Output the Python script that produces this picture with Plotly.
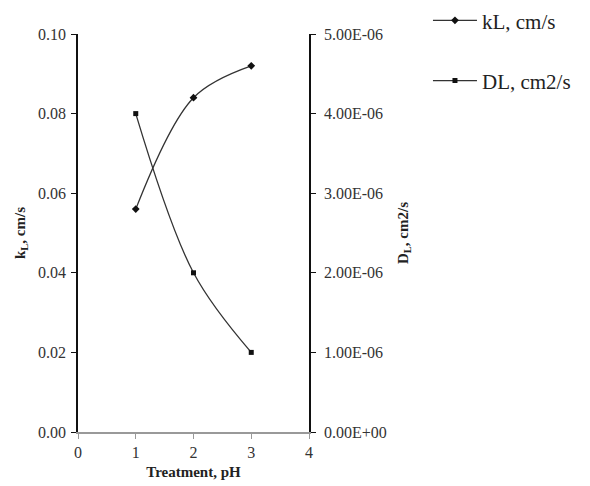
import plotly.graph_objects as go

treatment = [1, 2, 3]
kL = [0.056, 0.084, 0.092]
DL = [4.0e-6, 2.0e-6, 1.0e-6]
left_ticks = [0.0, 0.02, 0.04, 0.06, 0.08, 0.10]
left_labels = ["0.00", "0.02", "0.04", "0.06", "0.08", "0.10"]
right_ticks = [0, 1e-6, 2e-6, 3e-6, 4e-6, 5e-6]
right_labels = ["0.00E+00", "1.00E-06", "2.00E-06", "3.00E-06", "4.00E-06", "5.00E-06"]
x_ticks = [0, 1, 2, 3, 4]

FONT = "Liberation Serif, DejaVu Serif, serif"
LINE = "#333"

fig = go.Figure()
fig.add_trace(go.Scatter(
    x=treatment, y=kL, name="kL, cm/s", mode="lines+markers",
    line=dict(color=LINE, width=1.3, shape="spline", smoothing=1.0),
    marker=dict(symbol="diamond", size=6, color="#111"),
    legendgroup="a", yaxis="y"))
fig.add_trace(go.Scatter(
    x=treatment, y=DL, name="DL, cm2/s", mode="lines+markers",
    line=dict(color=LINE, width=1.3, shape="spline", smoothing=1.0),
    marker=dict(symbol="square", size=5, color="#111"),
    legendgroup="b", yaxis="y2"))

fig.update_layout(
    width=590, height=486,
    margin=dict(l=78, r=281, t=34, b=54, autoexpand=False),
    paper_bgcolor="white", plot_bgcolor="white",
    font=dict(family=FONT, color="#333", size=16),
    showlegend=True,
    legend=dict(x=1.515, y=1.085, xanchor="left", yanchor="top",
                font=dict(family=FONT, size=21, color="#222"),
                itemwidth=44, tracegroupgap=30, bgcolor="rgba(0,0,0,0)"),
    xaxis=dict(range=[0, 4], tickvals=x_ticks, showgrid=False, zeroline=False,
               showline=True, linecolor="#999", linewidth=1.5,
               ticks="outside", ticklen=5, tickcolor="#999",
               tickfont=dict(family=FONT, size=16, color="#333"),
               title=dict(text="<b>Treatment, pH</b>", font=dict(family=FONT, size=15, color="#222"), standoff=7)),
    yaxis=dict(range=[0, 0.10], tickvals=left_ticks, ticktext=left_labels,
               showgrid=False, zeroline=False, showline=True, linecolor="#111", linewidth=1.5,
               ticks="outside", ticklen=5, tickcolor="#111", ticklabelstandoff=2,
               tickfont=dict(family=FONT, size=16, color="#333"),
               title=dict(text="<b>k<sub>L</sub>, cm/s</b>", font=dict(family=FONT, size=15, color="#222"), standoff=9)),
    yaxis2=dict(range=[0, 5e-6], tickvals=right_ticks, ticktext=right_labels,
                overlaying="y", side="right", showgrid=False, zeroline=False,
                showline=True, linecolor="#111", linewidth=1.5,
                ticks="outside", ticklen=5, tickcolor="#111", ticklabelstandoff=5,
                tickfont=dict(family=FONT, size=16, color="#333"),
                title=dict(text="<b>D<sub>L</sub>, cm2/s</b>", font=dict(family=FONT, size=15, color="#222"), standoff=12)),
)

fig.write_html("out.html")
